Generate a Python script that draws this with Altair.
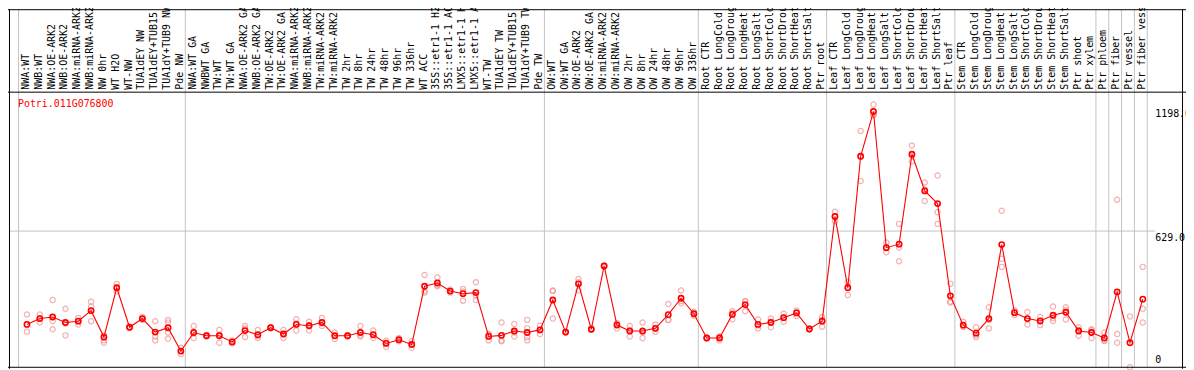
import altair as alt
import pandas as pd

gene = "Potri.011G076800"

labels = [
    "NWA:WT", "NWB:WT", "NWA:OE-ARK2", "NWB:OE-ARK2", "NWA:miRNA-ARK2", "NWB:miRNA-ARK2",
    "NW 0hr", "WT H2O", "WT-NW", "TUA1dEY NW", "TUA1dEY+TUB15 NW", "TUA1dY+TUB9 NW", "Pde NW",
    "NWA:WT GA", "NWBWT GA", "TW:WT", "TW:WT GA", "NWA:OE-ARK2 GA", "NWB:OE-ARK2 GA",
    "TW:OE-ARK2", "TW:OE-ARK2 GA", "NWA:miRNA-ARK2 GA", "NWB:miRNA-ARK2 GA", "TW:miRNA-ARK2",
    "TW:miRNA-ARK2 GA", "TW 2hr", "TW 8hr", "TW 24hr", "TW 48hr", "TW 96hr", "TW 336hr",
    "WT ACC", "35S::etr1-1 H2O", "35S::etr1-1 ACC", "LMX5::etr1-1 H2O", "LMX5::etr1-1 ACC",
    "WT-TW", "TUA1dEY TW", "TUA1dEY+TUB15 TW", "TUA1dY+TUB9 TW", "Pde TW",
    "OW:WT", "OW:WT GA", "OW:OE-ARK2", "OW:OE-ARK2 GA", "OW:miRNA-ARK2", "OW:miRNA-ARK2 GA",
    "OW 2hr", "OW 8hr", "OW 24hr", "OW 48hr", "OW 96hr", "OW 336hr",
    "Root CTR", "Root LongCold", "Root LongDrought", "Root LongHeat", "Root LongSalt",
    "Root ShortCold", "Root ShortDrought", "Root ShortHeat", "Root ShortSalt", "Ptr root",
    "Leaf CTR", "Leaf LongCold", "Leaf LongDrought", "Leaf LongHeat", "Leaf LongSalt",
    "Leaf ShortCold", "Leaf ShortDrought", "Leaf ShortHeat", "Leaf ShortSalt", "Ptr leaf",
    "Stem CTR", "Stem LongCold", "Stem LongDrought", "Stem LongHeat", "Stem LongSalt",
    "Stem ShortCold", "Stem ShortDrought", "Stem ShortHeat", "Stem ShortSalt", "Ptr shoot",
    "Ptr xylem", "Ptr phloem", "Ptr fiber", "Ptr vessel", "Ptr fiber vessel",
]

means = [
    201, 228, 235, 210, 216, 264, 143, 369, 188, 228, 166, 186, 79,
    164, 149, 149, 121, 173, 154, 186, 157, 201, 195, 210, 149, 149, 164, 154, 114, 131,
    109, 376, 391, 354, 342, 347, 146, 151, 171, 164, 176,
    313, 166, 387, 179, 469, 198, 171, 171, 183, 246, 321, 250,
    139, 139, 247, 292, 201, 210, 232, 254, 180, 216,
    696, 369, 972, 1177, 553, 569, 981, 813, 755, 332,
    198, 161, 228, 567, 255, 228, 217, 243, 257, 171, 164,
    139, 350, 117, 317,
]

replicates = [
    [247, 168, 201], [247, 210, 228], [313, 217, 179], [273, 151, 205], [231, 201, 216],
    [305, 283, 216], [150, 128, 117], [387, 369, 352], [188, 185, 191], [235, 222, 228],
    [216, 146, 128], [222, 210, 164, 135], [94, 65, 79],
    [194, 139, 160], [149, 146, 152], [176, 117, 154], [114, 128, 121], [194, 143, 182],
    [176, 139, 148], [186, 188, 184], [176, 139, 156], [225, 173, 205], [213, 173, 199],
    [231, 194, 205], [164, 134, 149], [146, 152, 149], [194, 146, 152], [173, 139, 150],
    [99, 117, 126], [139, 124, 131], [124, 94, 109], [428, 347, 354], [416, 376, 381],
    [354, 347, 361], [364, 310, 352], [394, 313, 334], [157, 128, 153], [210, 128, 124],
    [203, 146, 164], [222, 183, 143, 128], [195, 157, 176],
    [357, 228, 354], [168, 163, 167], [409, 357, 395], [179, 177, 181], [469, 467, 471],
    [183, 205, 206], [194, 146, 173], [210, 139, 164], [201, 168, 180], [295, 222, 221],
    [357, 298, 308], [259, 241, 250],
    [139, 137, 141], [128, 146, 143], [262, 225, 254], [307, 262, 307], [224, 183, 196],
    [228, 188, 214], [250, 213, 233], [265, 240, 257], [180, 178, 182], [235, 191, 222],
    [718, 674, 696], [396, 336, 375], [1088, 859, 969], [1209, 1159, 1163], [577, 532, 550],
    [662, 491, 554], [1021, 948, 974], [852, 767, 820], [884, 715, 662], [388, 302, 306],
    [213, 191, 190], [188, 143, 152], [280, 183, 221], [722, 502, 465], [265, 245, 255],
    [258, 201, 225], [235, 198, 218], [283, 217, 229], [280, 224, 267], [188, 149, 176],
    [179, 139, 174],
    [164, 128, 125], [773, 157, 117], [238, 5], [465, 273, 210],
]

group_sizes = [13, 28, 12, 10, 10, 11, 1, 1, 1, 1]
y_ticks_top = [629, 1198]
y_ticks_top_text = ["629.0", "1198.0"]
y_tick_bottom = [0]
y_tick_bottom_text = ["0"]

# ---- layout (styling) ----
W, H = 1186, 362
X_DOMAIN = [-0.3231, 91.523]
Y_DOMAIN = [-2.23, 1646.0]
FONT = "DejaVu Sans Mono"

idx = list(range(1, len(labels) + 1))
df_mean = pd.DataFrame({"idx": idx, "label": labels, "value": means})
rows = []
for i, reps in zip(idx, replicates):
    for r in reps:
        rows.append({"idx": i, "value": r})
df_rep = pd.DataFrame(rows)

bounds = [0.5]
c = 0.5
for g in group_sizes:
    c += g
    bounds.append(c)
df_grid = pd.DataFrame({"b": bounds})

xs = alt.Scale(domain=X_DOMAIN, nice=False, zero=False)
ys = alt.Scale(domain=Y_DOMAIN, nice=False, zero=False)

vgrid = alt.Chart(df_grid).mark_rule(color="#c4c4c4", strokeWidth=1).encode(
    x=alt.X("b:Q", scale=xs, axis=None),
    y=alt.value(0), y2=alt.value(360.5),
)

hgrid = alt.Chart(pd.DataFrame({"v": [629]})).mark_rule(color="#c4c4c4", strokeWidth=1).encode(
    y=alt.Y("v:Q", scale=ys, axis=None),
    x=alt.value(1), x2=alt.value(1155),
)

frame_df = pd.DataFrame({"k": [0]})
left_border = alt.Chart(frame_df).mark_rule(color="black", strokeWidth=1).encode(
    x=alt.value(1.5), y=alt.value(0), y2=alt.value(362))
right_border = alt.Chart(frame_df).mark_rule(color="black", strokeWidth=1).encode(
    x=alt.value(1182.5), y=alt.value(0), y2=alt.value(362))
top_border = alt.Chart(frame_df).mark_rule(color="black", strokeWidth=1).encode(
    x=alt.value(0), x2=alt.value(1186), y=alt.value(0.5))
sep_line = alt.Chart(frame_df).mark_rule(color="black", strokeWidth=1).encode(
    x=alt.value(0), x2=alt.value(1186), y=alt.value(83.5))
bottom_border = alt.Chart(frame_df).mark_rule(color="black", strokeWidth=1).encode(
    x=alt.value(0), x2=alt.value(1186), y=alt.value(360.5))

label_text = alt.Chart(df_mean).mark_text(
    angle=270, align="left", baseline="middle", font=FONT, fontSize=10, color="black", xOffset=1
).encode(
    x=alt.X("idx:Q", scale=xs, axis=None),
    y=alt.value(81),
    text="label:N",
)

reps_layer = alt.Chart(df_rep).mark_point(
    shape="circle", filled=False, color="#ee8f8f", size=28, strokeWidth=1.2, xOffset=2
).encode(
    x=alt.X("idx:Q", scale=xs, axis=None),
    y=alt.Y("value:Q", scale=ys, axis=None),
)

line_layer = alt.Chart(df_mean).mark_line(color="#ff0000", strokeWidth=1.1, xOffset=2).encode(
    x=alt.X("idx:Q", scale=xs, axis=None),
    y=alt.Y("value:Q", scale=ys, axis=None),
)

mean_layer = alt.Chart(df_mean).mark_point(
    shape="circle", filled=False, color="#ff0000", size=28, strokeWidth=1.6, opacity=1, xOffset=2
).encode(
    x=alt.X("idx:Q", scale=xs, axis=None),
    y=alt.Y("value:Q", scale=ys, axis=None),
)

title_layer = alt.Chart(pd.DataFrame({"t": [gene]})).mark_text(
    align="left", baseline="middle", font=FONT, fontSize=10, color="#ff0000"
).encode(x=alt.value(10), y=alt.value(95), text="t:N")

ytop = alt.Chart(pd.DataFrame({"v": y_ticks_top, "t": y_ticks_top_text})).mark_text(
    align="left", baseline="top", font=FONT, fontSize=10, color="black", yOffset=2
).encode(x=alt.value(1155), y=alt.Y("v:Q", scale=ys, axis=None), text="t:N")

ybot = alt.Chart(pd.DataFrame({"v": y_tick_bottom, "t": y_tick_bottom_text})).mark_text(
    align="left", baseline="bottom", font=FONT, fontSize=10, color="black", yOffset=-3
).encode(x=alt.value(1155), y=alt.Y("v:Q", scale=ys, axis=None), text="t:N")

chart = alt.layer(
    vgrid, hgrid, label_text, reps_layer, line_layer, mean_layer, title_layer, ytop, ybot,
    left_border, right_border, top_border, sep_line, bottom_border,
).properties(
    width=W, height=H, padding=0, autosize=alt.AutoSizeParams(type="none"),
    background="white",
).configure_view(stroke=None)

chart.save("out.html", embed_options={"renderer": "svg", "actions": False})
